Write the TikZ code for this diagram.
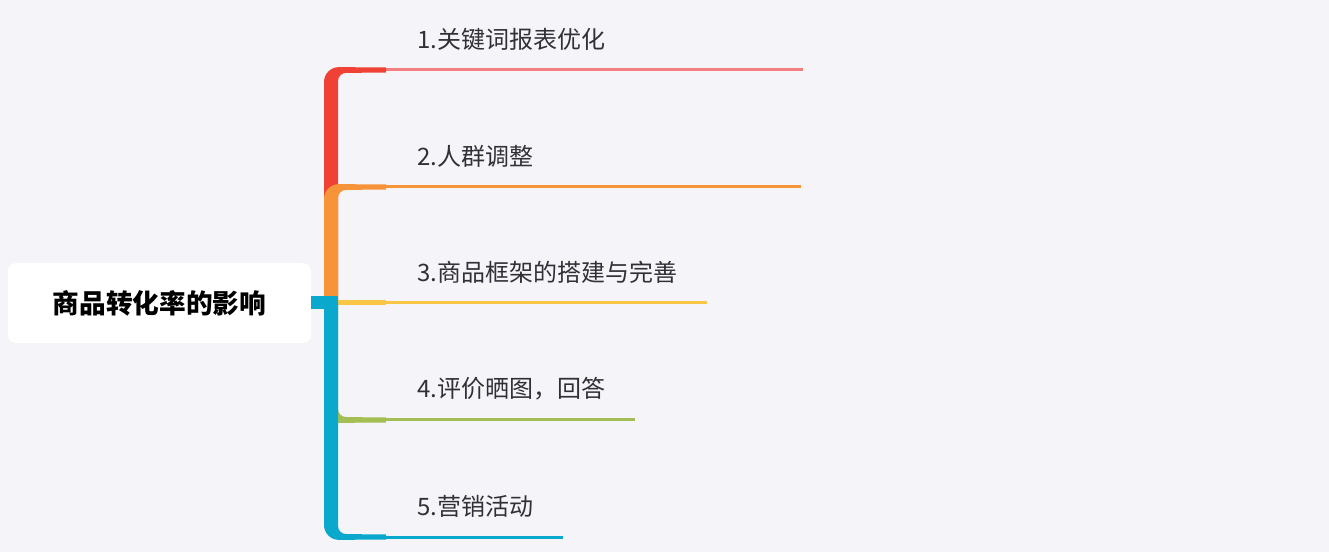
\documentclass[tikz,border=0pt]{standalone}
\usepackage{fontspec}
\usepackage{tikz}
\usetikzlibrary{calc}
\newfontfamily\cjk{Noto Sans CJK SC}
\definecolor{bg}{HTML}{F5F5F9}
\definecolor{txt}{HTML}{303036}
\definecolor{cred}{HTML}{EF4136}
\definecolor{credl}{HTML}{F47E7E}
\definecolor{corange}{HTML}{F7943A}
\definecolor{cyellow}{HTML}{F9C646}
\definecolor{cgreen}{HTML}{A3BE52}
\definecolor{cblue}{HTML}{0AA8CD}
\newcommand{\branchup}[2] % y of topic line in px, colour
{
	% bent part from the trunk up to the topic line
	\fill[#2] (324,303) [rounded corners=11.25pt] -- (324,#1-3) [sharp corners] -- (386,#1-2.5) -- (386,#1+2.5) [rounded corners=6pt] -- (338,#1+3) [sharp corners] -- (338,303) -- cycle;
}
\newcommand{\branchdown}[2] % y of topic line in px, colour
{
	% bent part from the trunk down to the topic line
	\fill[#2] (324,303) [rounded corners=11.25pt] -- (324,#1+3) [sharp corners] -- (386,#1+2.5) -- (386,#1-2.5) [rounded corners=6pt] -- (338,#1-3) [sharp corners] -- (338,303) -- cycle;
}
\begin{document}
\begin{tikzpicture}[x=0.75pt,y=-0.75pt,
	leaf/.style={anchor=west,inner sep=0pt,text=txt,font=\cjk\fontsize{18}{22}\selectfont},
	rootbox/.style={fill=white,rounded corners=6pt,minimum width=227.25pt,minimum height=60pt,inner sep=0pt,font=\cjk\bfseries\fontsize{20}{24}\selectfont},
	underline/.style={line width=2.25pt}]
	% canvas 1329 x 552 px
	\fill[bg] (0,0) rectangle (1329,552);
	\useasboundingbox (0,0) rectangle (1329,552);
	% central topic
	\node[rootbox] (root) at (159.5,303) {商品转化率的影响};
	% topics
	\node[leaf] (t1) at (417,39) {1.关键词报表优化};
	\node[leaf] (t2) at (417,156) {2.人群调整};
	\node[leaf] (t3) at (417,272) {3.商品框架的搭建与完善};
	\node[leaf] (t4) at (417,389) {4.评价晒图，回答};
	\node[leaf] (t5) at (417,506) {5.营销活动};
	% topic lines
	\coordinate (a1) at (386,70);  \coordinate (z1) at (803,70);
	\coordinate (a2) at (386,187); \coordinate (z2) at (801,187);
	\coordinate (a3) at (386,303); \coordinate (z3) at (707,303);
	\coordinate (a4) at (386,420); \coordinate (z4) at (635,420);
	\coordinate (a5) at (386,537); \coordinate (z5) at (563,537);
	\draw[credl,underline] (a1) -- (z1);
	\draw[corange,underline] (a2) -- (z2);
	\draw[cyellow,underline] (a3) -- (z3);
	\draw[cgreen,underline] (a4) -- (z4);
	\draw[cblue,underline] (a5) -- (z5);
	% branches
	\branchup{70}{cred};
	\branchup{187}{corange};
	\fill[cyellow] (337,300.5) rectangle (386,305.5);
	\branchdown{420}{cgreen};
	\branchdown{537}{cblue};
	% stub from the central topic
	\fill[cblue] ($(root.east)+(0,-6.5)$) rectangle (338,309.5);
\end{tikzpicture}
\end{document}
